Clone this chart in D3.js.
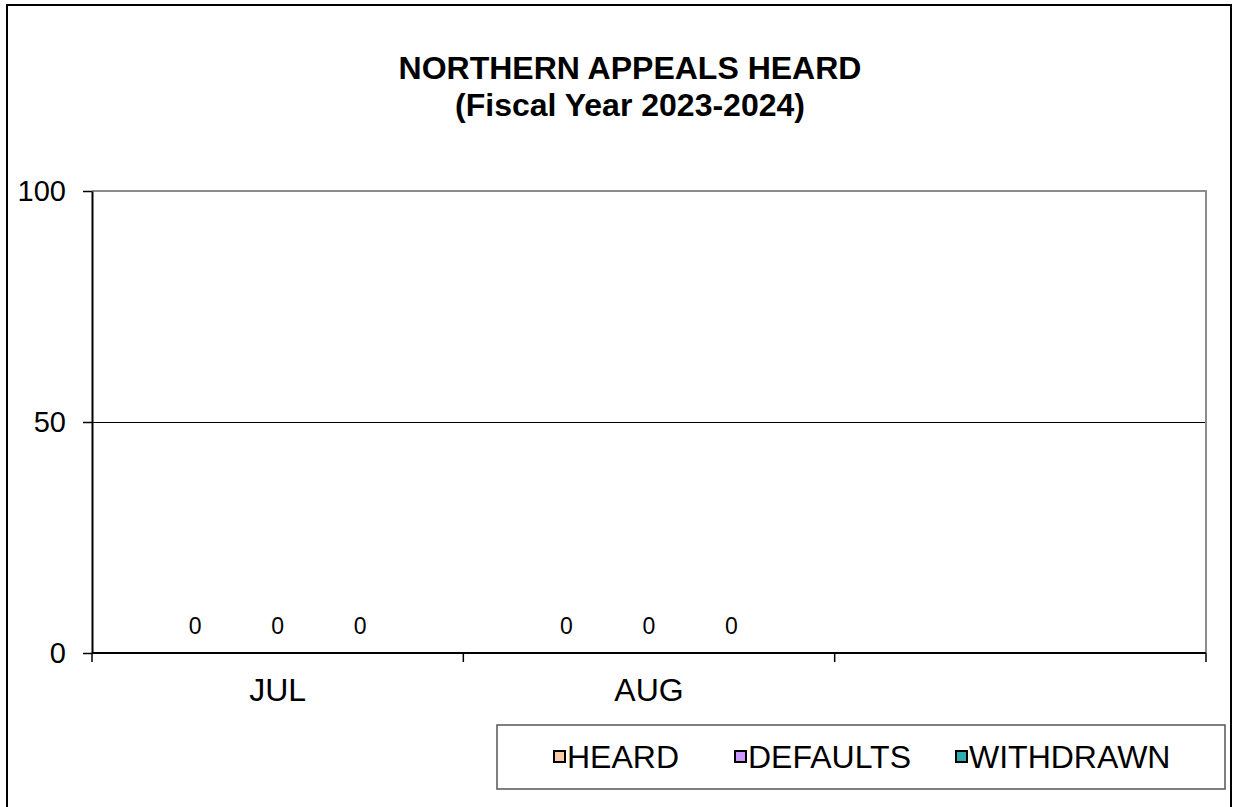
<!DOCTYPE html>
<html>
<head>
<meta charset="utf-8">
<script src="https://cdn.jsdelivr.net/npm/d3@7"></script>
<style>
  html, body { margin: 0; padding: 0; background: #fff; }
  svg { display: block; font-family: Arial, "Liberation Sans", sans-serif; }
</style>
</head>
<body>
<svg id="chart" width="1234" height="807"></svg>
<script>
// chart data
const months = ['JUL', 'AUG', ''];
const seriesNames = ['HEARD', 'DEFAULTS', 'WITHDRAWN'];
const heard = [0, 0, null];
const defaults = [0, 0, null];
const withdrawn = [0, 0, null];
const yTicks = [0, 50, 100];
const colors = ['#F9CBA7', '#CC99FF', '#33AAAE'];

const svgWidth = 1234, svgHeight = 807;
const margin = {top: 191, right: 28, bottom: 154, left: 92};
const width = svgWidth - margin.left - margin.right;
const height = svgHeight - margin.top - margin.bottom;

const svg = d3.select('#chart');

// outer frame
svg.append('path')
    .attr('d', `M7,${svgHeight} V5 H1231 V${svgHeight}`)
    .attr('fill', 'none')
    .attr('stroke', '#000')
    .attr('stroke-width', 2);

// title
const title = svg.append('text')
    .attr('text-anchor', 'middle')
    .attr('font-weight', 'bold')
    .attr('font-size', 32)
    .attr('fill', '#000');
title.append('tspan').attr('x', 630).attr('y', 79).text('NORTHERN APPEALS HEARD');
title.append('tspan').attr('x', 630).attr('y', 116).text('(Fiscal Year 2023-2024)');

const g = svg.append('g')
    .attr('transform', `translate(${margin.left},${margin.top})`);

const x = d3.scaleBand().domain(months).range([0, width]).padding(0);
// three bars per month, gap width 150%
const barW = x.bandwidth() / 4.5;
const xs = d3.scaleBand().domain(seriesNames)
    .range([0, barW * 3]);
const y = d3.scaleLinear().domain([0, 100]).range([height, 0]);

// gridline at 50
g.selectAll('line.grid')
    .data(yTicks.filter(d => d > 0 && d < 100))
    .join('line')
    .attr('class', 'grid')
    .attr('x1', 0).attr('x2', width)
    .attr('y1', d => Math.round(y(d)) + 0.5).attr('y2', d => Math.round(y(d)) + 0.5)
    .attr('stroke', '#000').attr('stroke-width', 1)
    .attr('shape-rendering', 'crispEdges');

// plot frame top/right (grey)
g.append('path')
    .attr('d', `M0,${y(100)} H${width} V${height}`)
    .attr('fill', 'none')
    .attr('stroke', '#8c8c8c')
    .attr('stroke-width', 2);

// bars + labels
const series = [heard, defaults, withdrawn];
series.forEach((vals, si) => {
    const pts = months.map((m, i) => ({m, v: vals[i]})).filter(d => d.v !== null);
    g.selectAll(null)
        .data(pts)
        .join('rect')
        .attr('x', d => x(d.m) + (x.bandwidth() - barW * 3) / 2 + xs(seriesNames[si]))
        .attr('y', d => y(d.v))
        .attr('width', barW)
        .attr('height', d => y(0) - y(d.v))
        .attr('fill', colors[si])
        .attr('stroke', '#000');
    g.selectAll(null)
        .data(pts)
        .join('text')
        .attr('x', d => x(d.m) + (x.bandwidth() - barW * 3) / 2 + xs(seriesNames[si]) + barW / 2)
        .attr('y', d => y(d.v) - 19)
        .attr('text-anchor', 'middle')
        .attr('font-size', 23)
        .attr('fill', '#000')
        .text(d => d.v);
});

// y axis
const yAxis = g.append('g')
    .call(d3.axisLeft(y).tickValues(yTicks).tickSize(9).tickSizeOuter(0).tickPadding(17));
yAxis.select('.domain').attr('stroke', '#000').attr('stroke-width', 2);
yAxis.selectAll('.tick line').attr('stroke', '#000').attr('stroke-width', 1.5);
yAxis.selectAll('.tick text')
    .attr('font-size', 29)
    .attr('fill', '#000')
    .attr('font-family', 'Arial, "Liberation Sans", sans-serif');

// x axis
const xAxis = g.append('g').attr('transform', `translate(0,${height})`);
xAxis.append('line')
    .attr('x1', 0).attr('x2', width)
    .attr('stroke', '#000').attr('stroke-width', 2);
const edges = [0].concat(months.map(m => x(m) + x.bandwidth()));
xAxis.selectAll('line.tick')
    .data(edges)
    .join('line')
    .attr('class', 'tick')
    .attr('x1', d => d).attr('x2', d => d)
    .attr('y1', 0).attr('y2', 9)
    .attr('stroke', '#000').attr('stroke-width', 1.5);
xAxis.selectAll('text')
    .data(months)
    .join('text')
    .attr('x', d => x(d) + x.bandwidth() / 2)
    .attr('y', 48)
    .attr('text-anchor', 'middle')
    .attr('font-size', 32)
    .attr('fill', '#000')
    .text(d => d);

// legend
const legend = svg.append('g');
legend.append('rect')
    .attr('x', 497).attr('y', 725)
    .attr('width', 728).attr('height', 64)
    .attr('fill', '#fff')
    .attr('stroke', '#555')
    .attr('stroke-width', 1.5);
const legendX = [554, 735, 956];
seriesNames.forEach((name, i) => {
    legend.append('rect')
        .attr('x', legendX[i]).attr('y', 751)
        .attr('width', 11).attr('height', 11)
        .attr('fill', colors[i])
        .attr('stroke', '#000')
        .attr('stroke-width', 2);
    legend.append('text')
        .attr('x', legendX[i] + 13)
        .attr('y', 768)
        .attr('font-size', 32)
        .attr('fill', '#000')
        .text(name);
});
</script>
</body>
</html>
